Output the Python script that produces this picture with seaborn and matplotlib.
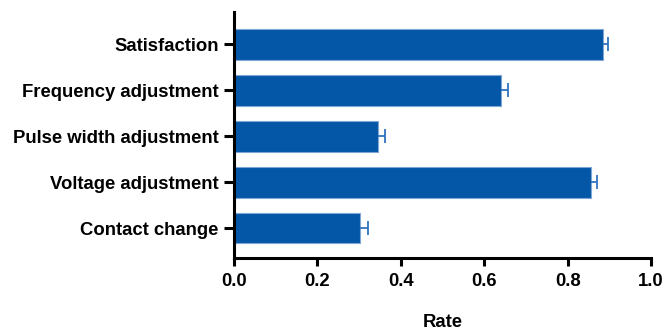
import matplotlib
matplotlib.use("Agg")
import matplotlib.pyplot as plt
import seaborn as sns
import pandas as pd
import numpy as np

categories = ["Satisfaction", "Frequency adjustment", "Pulse width adjustment",
              "Voltage adjustment", "Contact change"]
rates = [0.884, 0.640, 0.344, 0.857, 0.303]
errors = [0.012, 0.018, 0.017, 0.013, 0.018]
x_ticks = [0.0, 0.2, 0.4, 0.6, 0.8, 1.0]
x_label = "Rate"

sns.set_theme(style="ticks")
plt.rcParams['font.family'] = ['Liberation Sans', 'DejaVu Sans']
plt.rcParams['font.weight'] = 'bold'

df = pd.DataFrame({"category": categories, "rate": rates})

fig = plt.figure(figsize=(6.65, 3.35), dpi=100)
ax = fig.add_axes([0.352, 0.230, 0.627, 0.734])

bar_color = "#0357A6"
sns.barplot(data=df, y="category", x="rate", orient="h", color=bar_color,
            saturation=1, width=0.67, edgecolor="#7FA6D6", linewidth=0.8,
            errorbar=None, ax=ax)

ypos = np.arange(len(categories))
r = np.array(rates)
e = np.array(errors)
err_color = "#2F73BE"
ax.hlines(ypos, r, r + e, color=err_color, linewidth=1.3, zorder=3)
ax.plot(r + e, ypos, linestyle="none", marker="|", markersize=10,
        markeredgewidth=1.3, color=err_color, zorder=3)

ax.set_xlim(0, 1.0)
ax.set_ylim(4.65, -0.7)
ax.set_xticks(x_ticks)
ax.set_xticklabels([f"{t:.1f}" for t in x_ticks])
ax.set_ylabel("")
ax.set_xlabel(x_label, fontsize=13.3, fontweight="bold", labelpad=17, color="black")

for s in ["top", "right"]:
    ax.spines[s].set_visible(False)
for s in ["left", "bottom"]:
    ax.spines[s].set_linewidth(2.2)
    ax.spines[s].set_color("black")

ax.tick_params(axis="y", length=7, width=2.2, pad=4, labelsize=13.3,
               colors="black", labelcolor="black")
ax.tick_params(axis="x", length=6, width=2.2, pad=5, labelsize=13.3,
               colors="black", labelcolor="black")
for lab in ax.get_xticklabels() + ax.get_yticklabels():
    lab.set_fontweight("bold")

fig.savefig("out.png", dpi=100)
